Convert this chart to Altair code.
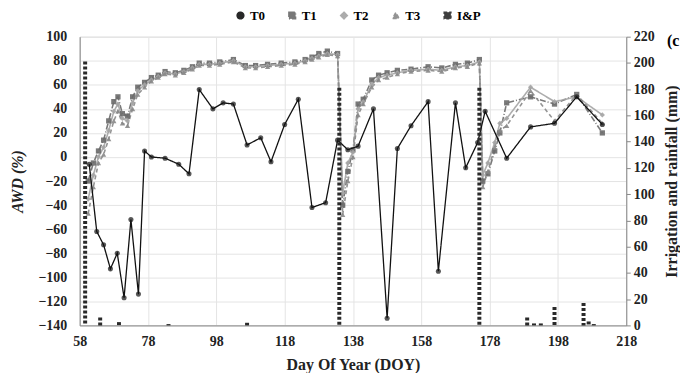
import altair as alt
import pandas as pd

# ---- data ----
series_names = ["T0", "T1", "T2", "T3", "I&P"]

doy_t0 = [60.8, 63, 65, 67, 69, 71, 73, 75.2, 77, 79, 83, 87, 90, 93, 97, 100, 103,
          107, 111, 114, 118, 122, 126, 130, 133.5, 136.5, 139.5, 144, 148, 151, 155,
          160, 163, 168, 171, 174.5, 176.7, 183, 190, 197, 203.5, 211]
awd_t0 = [-6, -62, -73, -93, -80, -117, -52, -114, 5, 0, -1, -6, -14, 56, 40, 45, 44,
          10, 16, -4, 27, 48, -42, -38, 14, 6, 9, 40, -134, 7, 26,
          46, -95, 45, -9, 12, 38, -1, 25, 28, 50, 27]

doy_t = [60.5, 62, 63.5, 65, 66.5, 68, 69.2, 70.5, 72, 73.5,
         75, 77, 79, 81, 83, 86, 88.5, 91, 93, 96,
         99, 103, 106.5, 109.5, 113, 117, 121, 124, 126, 128,
         130.5, 133.5, 135, 136.5, 138, 139.5, 141, 143.5, 145.5, 148,
         151, 155, 160, 164, 168, 171.5, 175, 176, 177.5, 179.5,
         181, 183, 190, 197, 203.5, 211]
awd_t1 = [-20, -5, 5, 14, 30, 46, 50, 36, 34, 50,
          58, 62, 66, 68, 71, 70, 72, 75, 78, 78,
          79, 81, 76, 76, 77, 78, 79, 81, 83, 86,
          88, 86, -40, -12, 6, 44, 48, 64, 68, 70,
          72, 73, 75, 74, 77, 78, 81, -20, -14, 5,
          20, 45, 50, 44, 52, 20]
awd_t2 = [-35, -15, 0, 8, 22, 38, 44, 32, 30, 45,
          55, 60, 64, 67, 70, 69, 71, 74, 77, 77,
          78, 80, 75, 75, 76, 77, 78, 80, 82, 84,
          86, 85, -30, -5, 4, 40, 46, 60, 66, 68,
          70, 72, 73, 72, 75, 76, 79, -15, -5, 12,
          28, 32, 58, 46, 50, 35]
awd_t3 = [-47, -25, -5, 2, 15, 30, 38, 28, 26, 40,
          52, 58, 63, 66, 69, 68, 70, 73, 76, 76,
          77, 79, 74, 74, 75, 76, 77, 79, 81, 83,
          85, 84, -48, -20, 0, 35, 44, 58, 64, 66,
          69, 71, 72, 71, 74, 75, 78, -25, -12, 8,
          22, 26, 55, 30, 52, 28]

ip_doy = [59.6, 64, 69.5, 84, 107, 134, 175, 189, 191, 193, 197, 205.5, 207, 208.5]
ip_mm = [201, 6, 2.5, 1, 2, 181, 181, 6, 1.5, 1.5, 14, 17, 3, 1]

x_ticks = [58, 78, 98, 118, 138, 158, 178, 198, 218]
y_left_ticks = list(range(-140, 101, 20))
y_right_ticks = list(range(0, 221, 20))

# ---- tables ----
rows = [{"series": "T0", "doy": d, "awd": v} for d, v in zip(doy_t0, awd_t0)]
for name, vals in (("T1", awd_t1), ("T2", awd_t2), ("T3", awd_t3)):
    rows += [{"series": name, "doy": d, "awd": v} for d, v in zip(doy_t, vals)]
df = pd.DataFrame(rows)
df_ip = pd.DataFrame({"series": "I&P", "doy": ip_doy, "mm": ip_mm})

FONT = "Liberation Serif"
colors = ["#111111", "#6a6a6a", "#a4a4a4", "#888888", "#2a2a2a"]
shapes = ["circle", "square", "diamond", "triangle-up", "square"]
dashes = [[1, 0], [6, 2, 1, 2], [1, 0], [4, 3], [3, 2]]

legend = alt.Legend(orient="none", legendX=155, legendY=-28, direction="horizontal",
                    title=None, labelFont=FONT, labelFontSize=13, labelFontWeight="bold",
                    symbolSize=45, symbolStrokeWidth=1.5, columnPadding=20,
                    labelOffset=3)
color = alt.Color("series:N", scale=alt.Scale(domain=series_names, range=colors), legend=legend)
shape = alt.Shape("series:N", scale=alt.Scale(domain=series_names, range=shapes), legend=legend)
dash = alt.StrokeDash("series:N", scale=alt.Scale(domain=series_names, range=dashes), legend=legend)

axis_font = dict(labelFont=FONT, titleFont=FONT, labelFontSize=14, labelFontWeight="bold",
                 titleFontWeight="bold", labelColor="#222", titleColor="#222",
                 labelFlush=False)

x = alt.X("doy:Q", scale=alt.Scale(domain=[58, 218], nice=False, zero=False),
          axis=alt.Axis(values=x_ticks, title="Day Of Year (DOY)", grid=True,
                        gridColor="#e4e4e4", ticks=False, labelPadding=9,
                        titlePadding=8, titleFontSize=16, **axis_font))
y_left = alt.Y("awd:Q", scale=alt.Scale(domain=[-140, 100], nice=False, zero=False),
               axis=alt.Axis(values=y_left_ticks, title="AWD (%)", grid=True,
                             gridColor="#e4e4e4", ticks=False, labelPadding=13,
                             titleFontStyle="italic", titlePadding=12, titleFontSize=16,
                             **axis_font))

base = alt.Chart(df)
order_gray = ["T3", "T2", "T1"]
gray_lines = base.transform_filter(alt.FieldOneOfPredicate(field="series", oneOf=order_gray)).mark_line(
    strokeWidth=1.6, opacity=0.9).encode(x=x, y=y_left, color=color, strokeDash=dash, detail="series:N")
gray_pts = base.transform_filter(alt.FieldOneOfPredicate(field="series", oneOf=order_gray)).mark_point(
    filled=True, size=28, opacity=0.9).encode(x=x, y=y_left, color=color, shape=shape)
t0_line = base.transform_filter(alt.datum.series == "T0").mark_line(strokeWidth=1.3).encode(
    x=x, y=y_left, color=color, strokeDash=dash)
t0_pts = base.transform_filter(alt.datum.series == "T0").mark_point(filled=True, size=26).encode(
    x=x, y=y_left, color=color, shape=shape)

label = alt.Chart(pd.DataFrame({"t": ["(c"]})).mark_text(
    font=FONT, fontSize=16, fontWeight="bold", align="left", baseline="middle").encode(
    text="t:N", x=alt.value(590), y=alt.value(4))

left = alt.layer(gray_lines, gray_pts, t0_line, t0_pts, label)

right = alt.Chart(df_ip).mark_rule(strokeWidth=4).encode(
    x=x,
    y=alt.Y("mm:Q", scale=alt.Scale(domain=[0, 220], nice=False),
            axis=alt.Axis(orient="right", values=y_right_ticks,
                          title="Irrigation and rainfall (mm)", grid=False, ticks=True,
                          tickSize=4, labelPadding=3, titleAngle=270, titleBaseline="top",
                          titlePadding=9, titleFontSize=16, **axis_font)),
    y2=alt.datum(0),
    color=color, strokeDash=dash)

chart = alt.layer(left, right).resolve_scale(y="independent").properties(
    width=549, height=290, padding={"left": 2, "top": 0, "right": 0, "bottom": 0}
).configure_axis(
    domainColor="#444", domainWidth=1.2, tickColor="#444"
).configure_view(stroke=None).configure(background="white", font=FONT)

chart.save("out.html", embed_options={"renderer": "svg", "actions": False})
